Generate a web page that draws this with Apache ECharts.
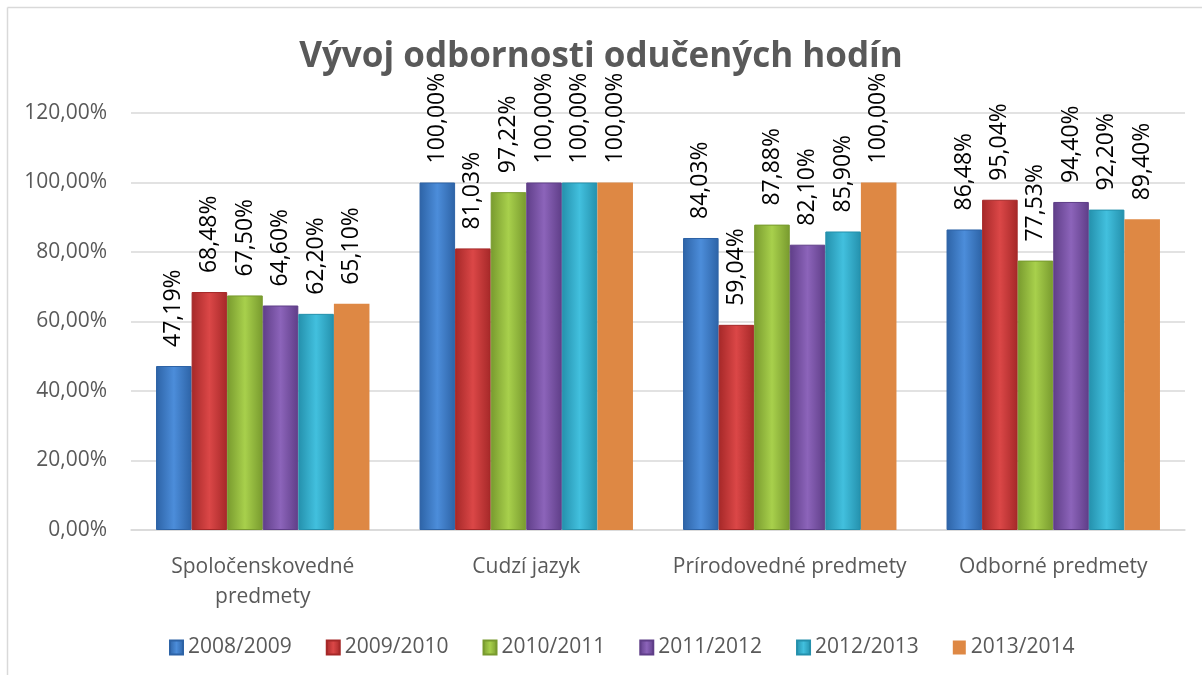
<!DOCTYPE html>
<html>
<head>
<meta charset="utf-8">
<title>Vývoj odbornosti odučených hodín</title>
<script src="https://cdn.jsdelivr.net/npm/echarts@6/dist/echarts.min.js"></script>
<style>
  html, body { margin: 0; padding: 0; background: #fff; }
  #chart { width: 1202px; height: 675px; }
</style>
</head>
<body>
<div id="chart"></div>
<script>
// data
const categories = ['Spoločenskovedné\npredmety', 'Cudzí jazyk', 'Prírodovedné predmety', 'Odborné predmety']
const years = ['2008/2009', '2009/2010', '2010/2011', '2011/2012', '2012/2013', '2013/2014']
const values2008 = [47.19, 100.00, 84.03, 86.48]
const values2009 = [68.48, 81.03, 59.04, 95.04]
const values2010 = [67.50, 97.22, 87.88, 77.53]
const values2011 = [64.60, 100.00, 82.10, 94.40]
const values2012 = [62.20, 100.00, 85.90, 92.20]
const values2013 = [65.10, 100.00, 100.00, 89.40]
const seriesValues = [values2008, values2009, values2010, values2011, values2012, values2013]

// edge / center colours for the bevelled bars
const palette = [
  ['#2D63A6', '#4C8DDA'],
  ['#A52828', '#DB4747'],
  ['#789A2E', '#A8D04C'],
  ['#5F3E88', '#8C64BA'],
  ['#2490AC', '#42C0DE'],
  ['#DE8844', '#DE8844']
]

const fmt = v => v.toFixed(2).replace('.', ',') + '%'

const barFill = ([edge, mid]) => ({
  type: 'linear', x: 0, y: 0, x2: 1, y2: 0,
  colorStops: [
    { offset: 0, color: edge },
    { offset: 0.5, color: mid },
    { offset: 1, color: edge }
  ]
})

const chart = echarts.init(document.getElementById('chart'))

chart.setOption({
  animation: false,
  textStyle: { fontFamily: 'Open Sans' },
  title: {
    text: 'Vývoj odbornosti odučených hodín',
    left: 'center',
    top: 35,
    textStyle: { fontSize: 35, fontWeight: 'bold', color: '#595959', fontFamily: 'Open Sans' }
  },
  grid: { left: 131, right: 17, top: 113, bottom: 145 },
  legend: {
    bottom: 12,
    left: 164,
    itemWidth: 13,
    itemHeight: 14,
    itemGap: 34,
    icon: 'rect',
    textStyle: { fontSize: 21, color: '#595959' },
    data: years
  },
  xAxis: {
    type: 'category',
    data: categories,
    axisTick: { show: false },
    axisLine: { lineStyle: { color: '#D9D9D9', width: 1.5 } },
    axisLabel: { interval: 0, fontSize: 21, color: '#595959', margin: 22, lineHeight: 30 }
  },
  yAxis: {
    type: 'value',
    min: 0,
    max: 120,
    interval: 20,
    axisLine: { show: false },
    axisTick: { show: false },
    splitLine: { lineStyle: { color: '#D9D9D9', width: 1.5 } },
    axisLabel: { fontSize: 21, color: '#595959', margin: 24, formatter: fmt }
  },
  series: years.map((name, i) => ({
    name,
    type: 'bar',
    data: seriesValues[i],
    barGap: '0%',
    barCategoryGap: '19%',
    itemStyle: {
      color: barFill(palette[i]),
      borderColor: palette[i][0],
      borderWidth: i < 5 ? 1 : 0
    },
    label: {
      show: true,
      position: 'top',
      rotate: 90,
      align: 'left',
      verticalAlign: 'middle',
      distance: 19,
      fontSize: 23,
      color: '#000',
      formatter: p => fmt(p.value)
    }
  })),
  graphic: [
    { type: 'line', shape: { x1: 7.5, y1: 7.5, x2: 1202, y2: 7.5 }, style: { stroke: '#D9D9D9', lineWidth: 1.5 } },
    { type: 'line', shape: { x1: 7.5, y1: 7.5, x2: 7.5, y2: 675 }, style: { stroke: '#D9D9D9', lineWidth: 1.5 } }
  ]
})
</script>
</body>
</html>
